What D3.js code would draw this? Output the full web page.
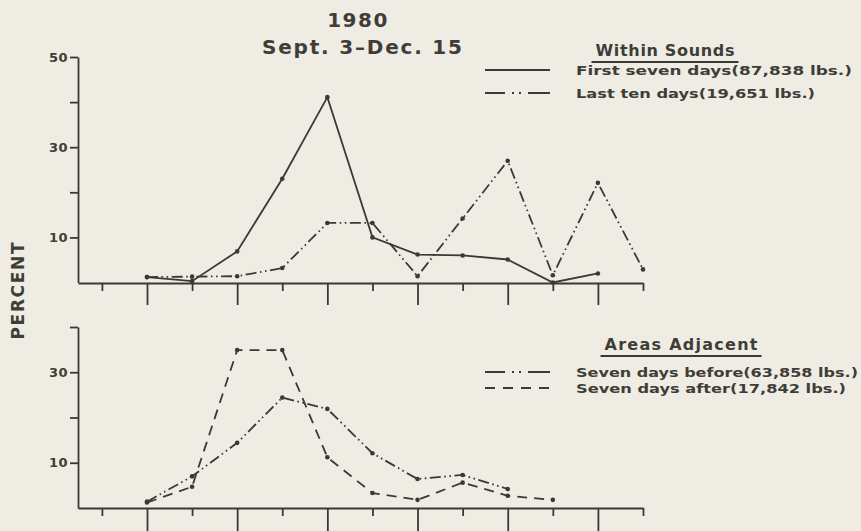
<!DOCTYPE html>
<html>
<head>
<meta charset="utf-8">
<script src="https://cdn.jsdelivr.net/npm/d3@7"></script>
<style>
  html, body { margin: 0; padding: 0; background: #efece4; }
  svg { display: block; }
  .ink { stroke: #3a3935; fill: none; }
  text { fill: #3e3d38; font-family: "DejaVu Sans", "Liberation Sans", Arial, sans-serif; font-weight: bold; }
  .axis path, .axis line { stroke: #3a3935; stroke-width: 1.8; }
  .axis text { font-size: 13px; fill: #3e3d38; font-family: "DejaVu Sans", sans-serif; }
</style>
</head>
<body>
<div id="chart"></div>
<script>
// x positions (no labels on the original axis)
const axisSteps = [0, 1, 2, 3, 4, 5, 6, 7, 8, 9, 10, 11, 12];
const steps = [1, 2, 3, 4, 5, 6, 7, 8, 9, 10, 11, 12];

// Within Sounds (percent)
const firstSeven = [1.2, 0.3, 6.9, 23.0, 41.1, 10.0, 6.2, 6.0, 5.1, 0.0, 2.0, null];
const lastTen    = [1.2, 1.3, 1.4, 3.2, 13.2, 13.2, 1.4, 14.2, 27.0, 1.6, 22.1, 2.9];

// Areas Adjacent (percent)
const daysBefore = [1.4, 7.0, 14.4, 24.4, 21.9, 12.1, 6.4, 7.3, 4.2, null, null, null];
const daysAfter  = [1.2, 4.7, 34.9, 34.9, 11.2, 3.3, 1.8, 5.6, 2.7, 1.8, null, null];

const topTicks = [10, 20, 30, 40, 50];
const topLabels = [10, 30, 50];
const botTicks = [10, 20, 30, 40];
const botLabels = [10, 30];

const width = 861, height = 531;
const dashDot = '11,3.5,1.6,3.5,1.6,3.5';
const dashed = '10,7';

const svg = d3.select('#chart').append('svg')
  .attr('width', width)
  .attr('height', height);

const x = d3.scaleLinear().domain([-0.53, 12]).range([78, 643]);
const yTop = d3.scaleLinear().domain([0, 50]).range([282.5, 57]);
const yBot = d3.scaleLinear().domain([0, 40]).range([508, 327]);

/**
 * Draw one panel's axes
 */
function drawAxes(y, ticks, labels, baseY, longTick) {
  svg.append('g')
    .attr('class', 'axis')
    .attr('transform', 'translate(78,0)')
    .call(d3.axisLeft(y)
      .tickValues(ticks)
      .tickSize(8)
      .tickSizeOuter(0)
      .tickPadding(2)
      .tickFormat(d => labels.includes(d) ? d : ''));

  const xa = svg.append('g')
    .attr('class', 'axis')
    .attr('transform', `translate(0,${baseY})`)
    .call(d3.axisBottom(x)
      .tickValues(axisSteps)
      .tickSize(8)
      .tickSizeOuter(0)
      .tickFormat(''));

  // every other tick is long
  xa.selectAll('.tick line')
    .attr('y2', d => d % 2 === 1 ? longTick : 8);

  svg.selectAll('.axis .tick text').attr('letter-spacing', 0.5);
}

drawAxes(yTop, topTicks, topLabels, 283, 22);
drawAxes(yBot, botTicks, botLabels, 508, 30);

/**
 * Draw a series line plus its dots
 */
function drawSeries(values, y, dash) {
  const pts = steps.map((s, i) => ({ s, v: values[i] }));
  const line = d3.line()
    .defined(d => d.v !== null)
    .x(d => x(d.s))
    .y(d => y(d.v));

  svg.append('path')
    .attr('class', 'ink')
    .attr('d', line(pts))
    .attr('stroke-width', 1.8)
    .attr('stroke-dasharray', dash);

  svg.append('g')
    .selectAll('circle')
    .data(pts.filter(d => d.v !== null))
    .join('circle')
    .attr('cx', d => x(d.s))
    .attr('cy', d => y(d.v))
    .attr('r', 2.3)
    .attr('fill', '#3a3935');
}

drawSeries(firstSeven, yTop, null);
drawSeries(lastTen, yTop, dashDot);
drawSeries(daysBefore, yBot, dashDot);
drawSeries(daysAfter, yBot, dashed);

// Title
svg.append('text')
  .attr('x', 358).attr('y', 27)
  .attr('text-anchor', 'middle')
  .attr('font-size', 20)
  .attr('letter-spacing', 1.5)
  .text('1980');
svg.append('text')
  .attr('x', 362).attr('y', 54)
  .attr('text-anchor', 'middle')
  .attr('font-size', 20)
  .attr('textLength', 200)
  .text('Sept. 3\u2013Dec. 15');

// Y label
svg.append('text')
  .attr('transform', 'translate(24,291) rotate(-90)')
  .attr('text-anchor', 'middle')
  .attr('font-size', 17)
  .attr('textLength', 97)
  .text('PERCENT');

/**
 * Legend block: underlined heading plus two sample rows
 */
function drawLegend(title, tx, ty, tLen, rows) {
  svg.append('text')
    .attr('x', tx).attr('y', ty)
    .attr('text-anchor', 'middle')
    .attr('font-size', 16)
    .attr('textLength', tLen)
    .text(title);
  svg.append('line')
    .attr('class', 'ink')
    .attr('x1', tx - tLen / 2 - 4).attr('x2', tx + tLen / 2 + 4)
    .attr('y1', ty + 6).attr('y2', ty + 6)
    .attr('stroke-width', 2);

  rows.forEach(r => {
    svg.append('line')
      .attr('class', 'ink')
      .attr('x1', 485).attr('x2', 550)
      .attr('y1', r.y).attr('y2', r.y)
      .attr('stroke-width', 2)
      .attr('stroke-dasharray', r.dash);
    svg.append('text')
      .attr('x', 576).attr('y', r.y + 5)
      .attr('font-size', 13)
      .attr('textLength', r.len)
      .attr('lengthAdjust', 'spacingAndGlyphs')
      .text(r.label);
  });
}

drawLegend('Within Sounds', 665, 56, 139, [
  { y: 70, dash: null, label: 'First seven days(87,838 lbs.)', len: 276 },
  { y: 93, dash: '20,7,2,5,2,7,22', label: 'Last ten days(19,651 lbs.)', len: 239 }
]);
drawLegend('Areas Adjacent', 681, 350, 153, [
  { y: 372, dash: '20,7,2,5,2,7,22', label: 'Seven days before(63,858 lbs.)', len: 282 },
  { y: 388, dash: '10,8', label: 'Seven days after(17,842 lbs.)', len: 270 }
]);
</script>
</body>
</html>
